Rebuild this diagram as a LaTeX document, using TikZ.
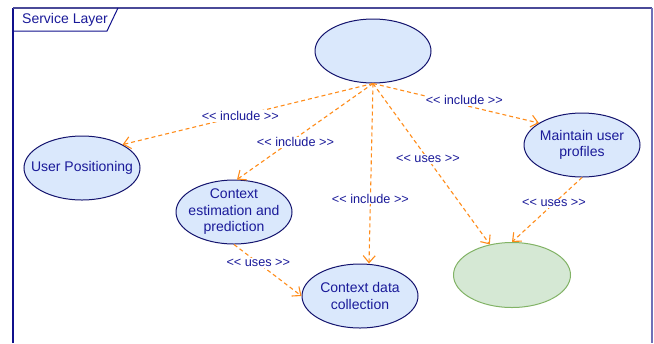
\documentclass[tikz,border=0pt]{standalone}
\usepackage{fontspec}
\setmainfont{Liberation Sans}
\usetikzlibrary{arrows.meta,shapes.geometric,positioning}
\definecolor{ucfill}{HTML}{DAE8FC}
\definecolor{ucline}{HTML}{14146E}
\definecolor{uctext}{HTML}{1A1A99}
\definecolor{grfill}{HTML}{D5E8D4}
\definecolor{grline}{HTML}{82B366}
\definecolor{deporange}{HTML}{FF8C1A}
\definecolor{frameline}{HTML}{10108C}
\definecolor{frametop}{HTML}{4A4A98}
\definecolor{frameright}{HTML}{7070B8}
\newcommand{\stereo}[1]{<\kern0pt< #1 >\kern0pt>}
\tikzset{
    usecase/.style={
    ellipse,draw=ucline,fill=ucfill,line width=1bp,minimum width=116bp,minimum height=64bp,
    inner xsep=-12bp,inner ysep=-4bp,text=uctext,align=center,font=\fontsize{14bp}{16.5bp}\selectfont
    },
    gcase/.style={
    ellipse,draw=grline,fill=grfill,line width=1bp,minimum width=117bp,minimum height=65bp
    },
    dep/.style={
    draw=deporange,line width=1.1bp,dash pattern=on 4bp off 3bp,
    -{Straight Barb[length=7bp,width=12bp]}
    },
    tag/.style={
    fill=white,inner sep=1bp,text=uctext,font=\fontsize{12.7bp}{15bp}\selectfont
    },
}

\begin{document}
\begin{tikzpicture}[x=1bp,y=-1bp]
  \useasboundingbox (0,0) rectangle (654,343);
  % frame and tab
  \draw[frameline,line width=1.6bp] (13,343) -- (13,8);
  \draw[frametop,line width=1.3bp] (13,8) -- (652,8);
  \draw[frameright,line width=2.2bp] (652,8) -- (652,343);
  \draw[frameline,line width=1bp] (13,31) -- (107,31) -- (118,8);
  \node[anchor=base west,inner sep=0pt,text=uctext,font=\fontsize{14bp}{16bp}\selectfont] (SL) at (22,23) {Service Layer};

  % use cases
  \node[usecase] (TOP) at (373,51) {};
  \node[usecase] (UP) at (82,168) {User Positioning};
  \node[usecase] (CEP) at (234,212) {Context\\estimation and\\prediction};
  \node[usecase] (CDC) at (360,296) {Context data\\collection};
  \node[usecase] (MUP) at (582,145) {Maintain user\\profiles};
  \node[gcase] (EXT) at (512,275) {};

  \path
    (TOP.south) edge [dep] node[tag,pos=0.53] {\stereo{include}} (UP.30)
                edge [dep] node[tag,pos=0.57,yshift=-4bp] {\stereo{include}} ([xshift=3bp]CEP.north)
                edge [dep] node[tag,pos=0.64] {\stereo{include}} ([xshift=9bp]CDC.north)
                edge [dep] node[tag,pos=0.55,yshift=5bp] {\stereo{include}} (MUP.153)
                edge [dep] node[tag,pos=0.47] {\stereo{uses}} (EXT)
    (CEP.south) edge [dep] node[tag,pos=0.36] {\stereo{uses}} (CDC.west)
    (MUP.south) edge [dep] node[tag,pos=0.4] {\stereo{uses}} (EXT.north);

\end{tikzpicture}
\end{document}
